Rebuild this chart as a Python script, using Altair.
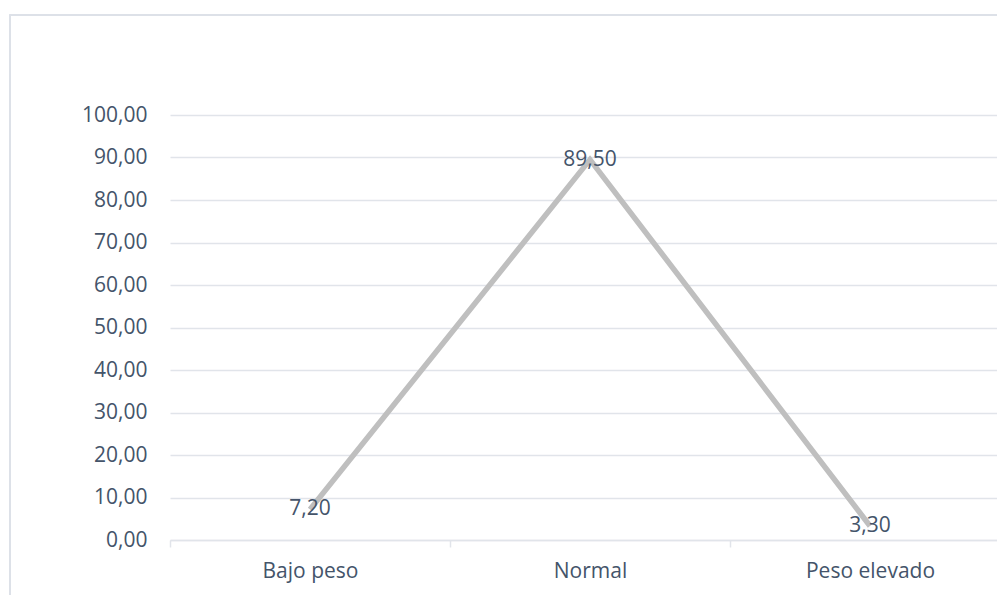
import altair as alt
import pandas as pd

categories = ["Bajo peso", "Normal", "Peso elevado"]
values = [7.20, 89.50, 3.30]
y_ticks = [0, 10, 20, 30, 40, 50, 60, 70, 80, 90, 100]

df = pd.DataFrame({"cat": categories, "val": values})
df["label"] = [f"{v:.2f}".replace(".", ",") for v in values]

TEXT = "#44546A"
GRID = "#e1e4ea"
FONT = "Open Sans"

x_enc = alt.X(
    "cat:N",
    sort=categories,
    title=None,
    scale=alt.Scale(range=[0, 840], paddingInner=0, paddingOuter=0),
    axis=alt.Axis(
        labelAngle=0,
        tickBand="extent",
        tickSize=7,
        tickColor=GRID,
        tickWidth=1.5,
        domainColor=GRID,
        domainWidth=1.5,
        labelPadding=13,
        labelFont=FONT,
        labelFontSize=21,
        labelColor=TEXT,
        grid=False,
    ),
)
y_enc = alt.Y(
    "val:Q",
    title=None,
    scale=alt.Scale(domain=[0, 100], nice=False),
    axis=alt.Axis(
        values=y_ticks,
        labelExpr="replace(format(datum.value, '.2f'), '.', ',')",
        ticks=False,
        domain=False,
        gridColor=GRID,
        gridWidth=1.5,
        labelPadding=23,
        labelFont=FONT,
        labelFontSize=21,
        labelColor=TEXT,
    ),
)

base = alt.Chart(df)

frame = base.mark_rect(fill=None, stroke="#dde1e8", strokeWidth=1.5).encode(
    x=alt.value(-160), x2=alt.value(900), y=alt.value(-100), y2=alt.value(520)
)

line = base.mark_line(color="#BFBFBF", strokeWidth=5.5, strokeJoin="miter").encode(
    x=x_enc, y=y_enc
)

labels = base.mark_text(
    font=FONT, fontSize=21, color=TEXT, baseline="middle", align="center"
).encode(x=alt.X("cat:N", sort=categories), y="val:Q", text="label:N")

chart = (
    alt.layer(frame, line, labels)
    .properties(
        width=827,
        height=425,
        autosize=alt.AutoSizeParams(type="none"),
        padding={"left": 170, "top": 115, "right": 0, "bottom": 55},
        background="white",
    )
    .configure_view(stroke=None)
)

chart.save("out.html", embed_options={"renderer": "svg", "actions": False})
